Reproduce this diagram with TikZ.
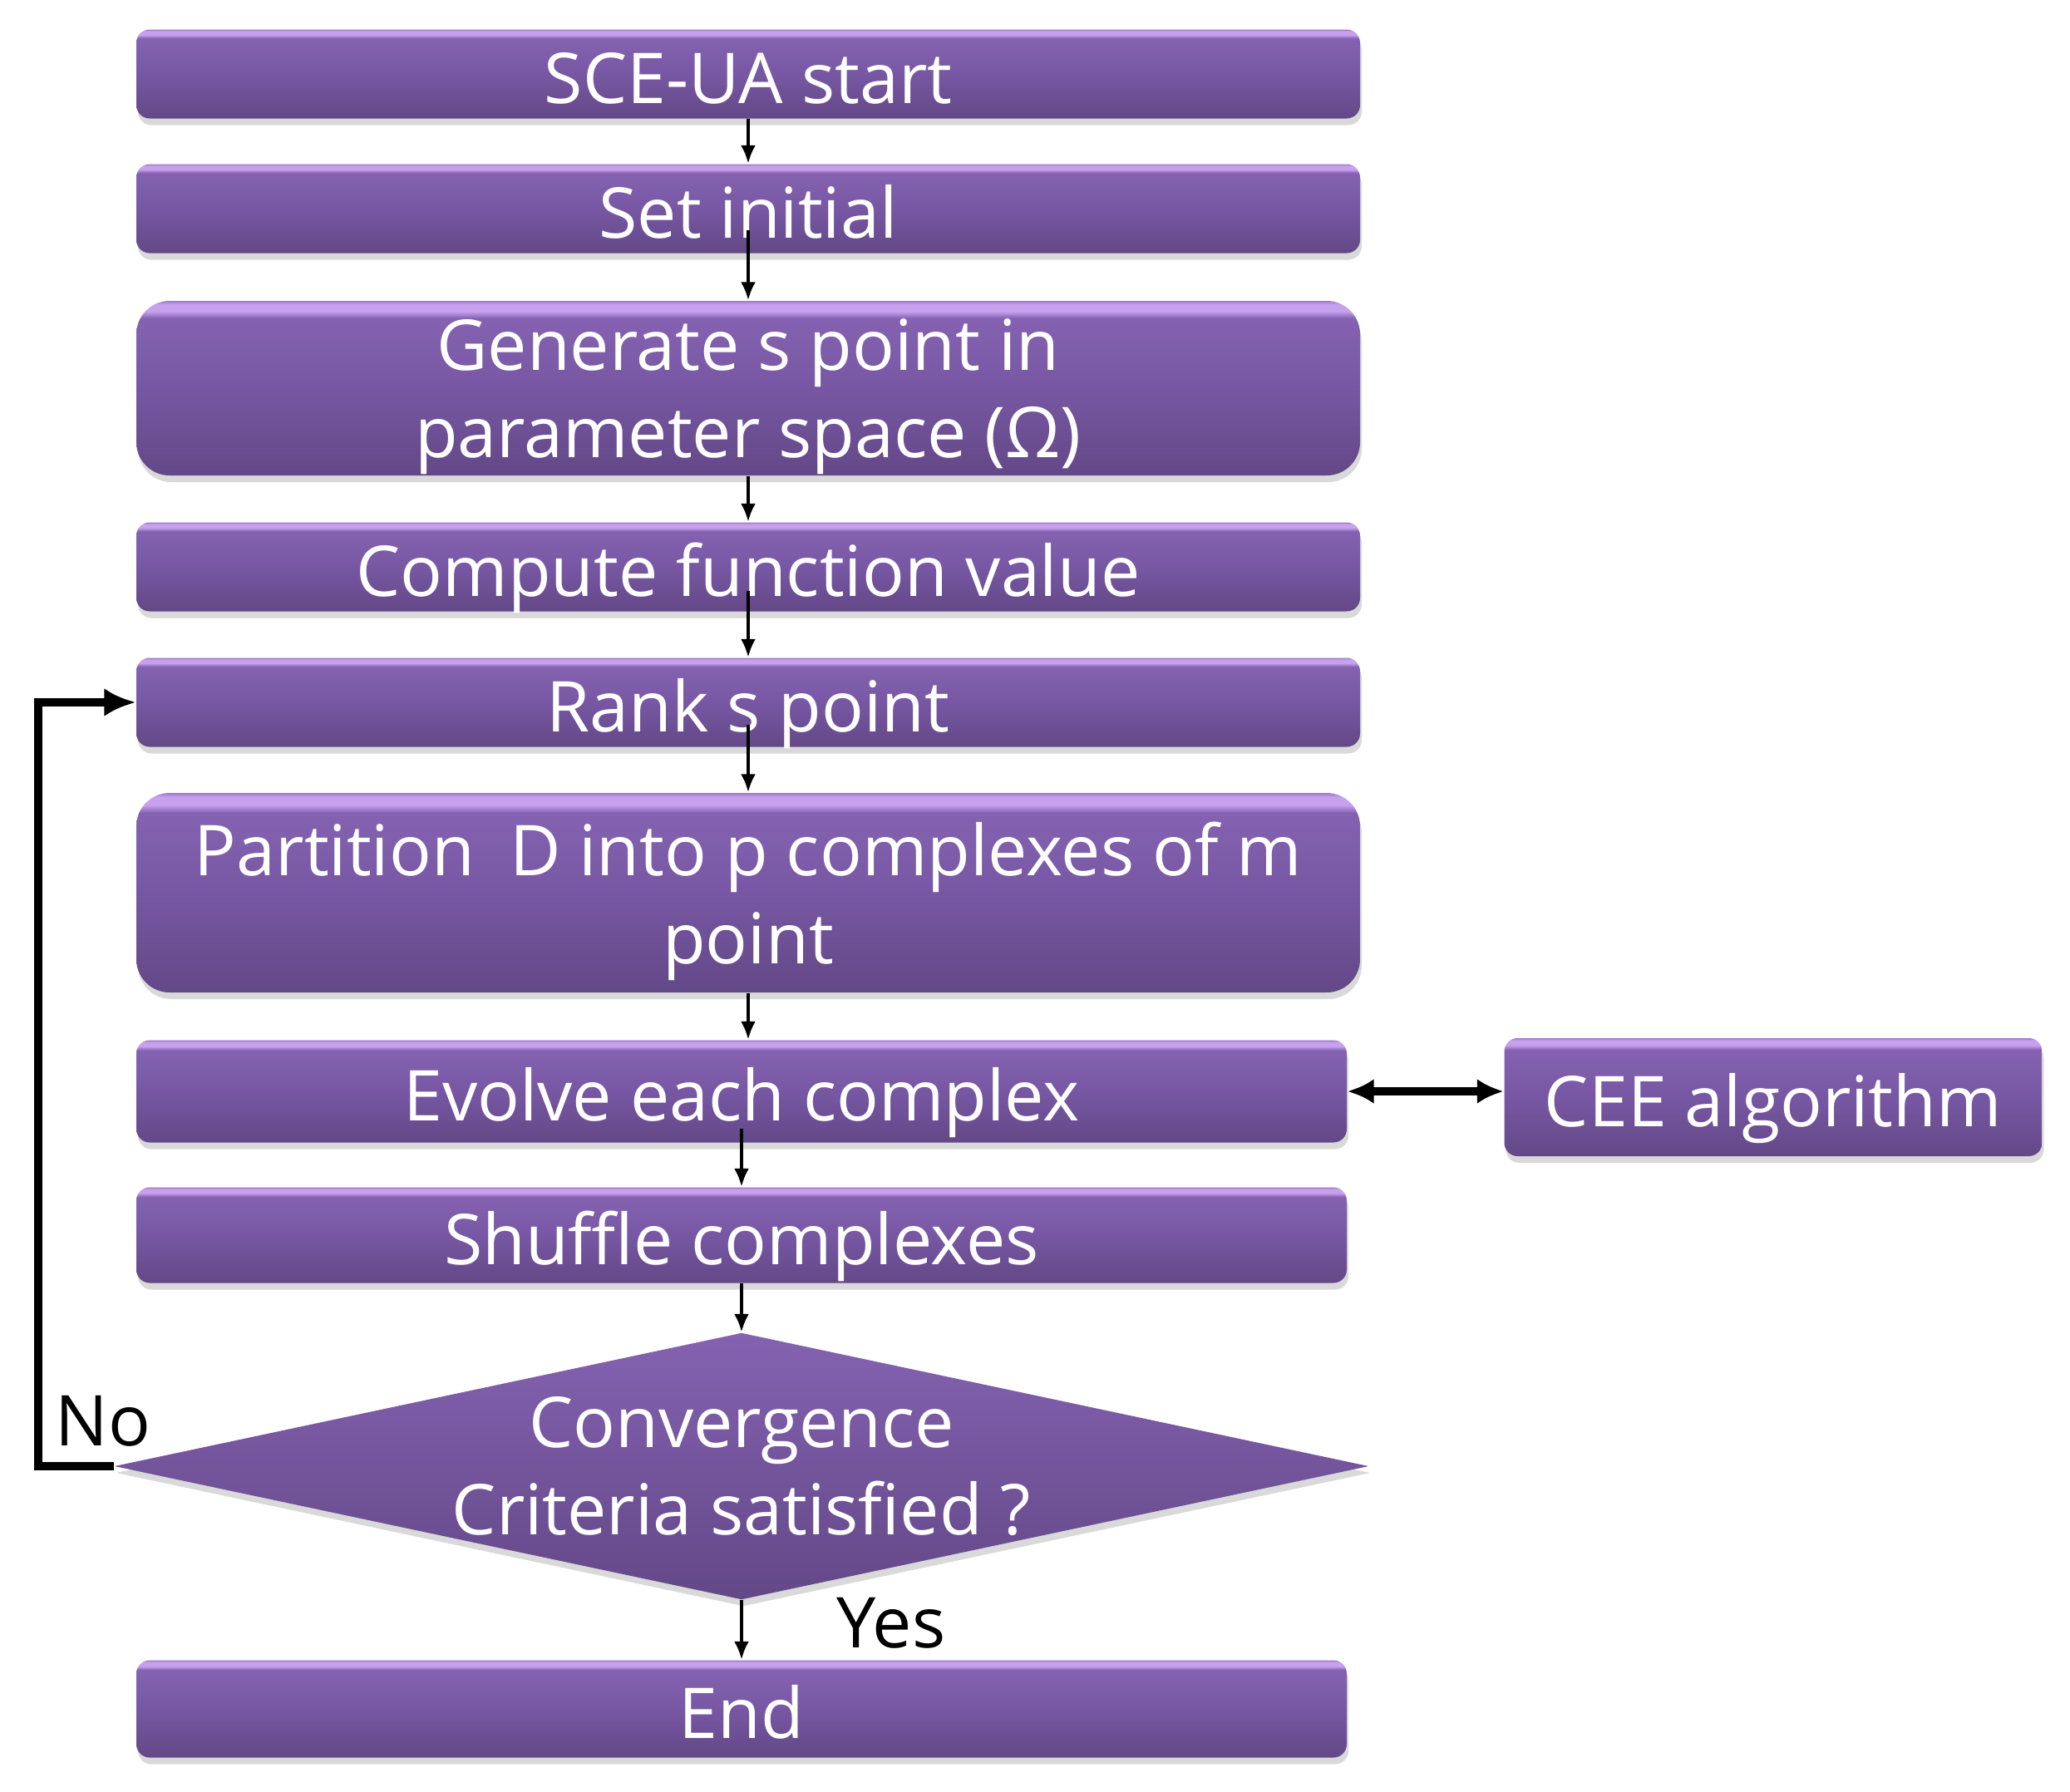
\documentclass[tikz,border=0pt]{standalone}
\usepackage{fontspec}
\setmainfont{Open Sans}
\usetikzlibrary{arrows.meta}
\usetikzlibrary{shapes.geometric}
\usetikzlibrary{shadows}

\definecolor{boxlow}{HTML}{634887}
\definecolor{boxmid}{HTML}{7757A3}
\definecolor{boxup}{HTML}{8462B1}
\definecolor{boxhi}{HTML}{C7A0EE}
\definecolor{boxtop}{HTML}{9C7BC6}

\pgfdeclareverticalshading{boxshade}{100bp}{color(0bp)=(boxlow); color(25bp)=(boxlow); color(50bp)=(boxmid); color(70bp)=(boxup); color(72bp)=(boxhi); color(74bp)=(boxhi); color(75bp)=(boxtop); color(100bp)=(boxtop)}

\tikzset{
  stepbox/.style={rectangle, rounded corners=0.16cm, shading=boxshade,
    minimum width=14.72cm, minimum height=1.07cm, inner sep=0pt,
    text=white, align=center, font=\fontsize{24}{30}\selectfont,
    text height=0.8cm, text depth=0.1cm,
    drop shadow={shadow xshift=0.02cm, shadow yshift=-0.08cm, opacity=0.3}},
  bigbox/.style={rounded corners=0.4cm, text height={}, text depth=-0.05cm},
  testbox/.style={diamond, aspect=4.7, inner sep=0pt,
    minimum width=15.09cm, minimum height=3.21cm,
    top color=boxup, bottom color=boxlow, text=white, align=center,
    font=\fontsize{24}{30}\selectfont,
    drop shadow={shadow xshift=0.02cm, shadow yshift=-0.08cm, opacity=0.3}},
  note/.style={font=\fontsize{24}{30}\selectfont, text=black},
  flow/.style={-{Latex[length=0.22cm,width=0.18cm]}, line width=1.1pt},
  loop/.style={-{Latex[length=0.38cm,width=0.34cm]}, line width=3pt},
  both/.style={{Latex[length=0.32cm,width=0.3cm]}-{Latex[length=0.32cm,width=0.3cm]}, line width=2.8pt}
}

\begin{document}
\begin{tikzpicture}

  \useasboundingbox (0,0) rectangle (24.9,-21.55);

  % Main column
  \node[stepbox] (start) at (9.00,-0.89) {SCE-UA start};
  \node[stepbox] (init) at (9.00,-2.51) {Set initial};
  \node[stepbox, bigbox, minimum height=2.10cm] (gen) at (9.00,-4.67) {Generate s point in\\parameter space (Ω)};
  \node[stepbox] (comp) at (9.00,-6.82) {Compute function value};
  \node[stepbox] (rank) at (9.00,-8.45) {Rank s point};
  \node[stepbox, bigbox, minimum height=2.40cm] (part) at (9.00,-10.74) {Partition\enspace D into p complexes of m\\point};

  % Evolution and test
  \node[stepbox, minimum width=14.56cm, minimum height=1.23cm] (evolve) at (8.92,-13.13) {Evolve each complex};
  \node[stepbox, minimum width=6.47cm, minimum height=1.42cm] (cee) at (21.33,-13.20) {CEE algorithm};
  \node[stepbox, minimum width=14.56cm, minimum height=1.15cm] (shuffle) at (8.92,-14.86) {Shuffle complexes};
  \node[testbox] (conv) at (8.92,-17.64) {Convergence\\Criteria satisfied ?};
  \node[stepbox, minimum width=14.56cm, minimum height=1.17cm] (finish) at (8.92,-20.56) {End};

  % Labels
  \node[note] (no) at (1.24,-17.10) {No};
  \node[note] (yes) at (10.72,-19.53) {Yes};

  % Arrows
  \draw[flow] (start) -- (init);
  \draw[flow, shorten <=-0.28cm] (init) -- (gen);
  \draw[flow] (gen) -- (comp);
  \draw[flow, shorten <=-0.25cm] (comp) -- (rank);
  \draw[flow, shorten <=-0.27cm] (rank) -- (part);
  \draw[flow] (part.south) -- (part.south |- evolve.north);
  \draw[flow, shorten <=-0.17cm] (evolve) -- (shuffle);
  \draw[flow] (shuffle) -- (conv);
  \draw[flow] (conv) -- (finish);
  \draw[both] (evolve.east) -- (evolve.east -| cee.west);
  \draw[loop] (conv.west) -- ++(-0.91,0) |- (rank.west);

\end{tikzpicture}
\end{document}
